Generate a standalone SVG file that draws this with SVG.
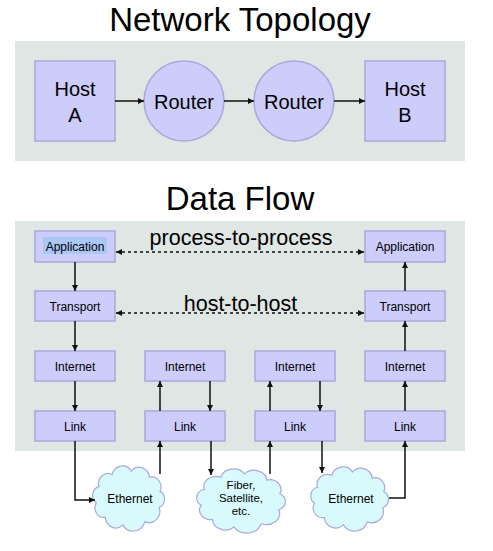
<svg xmlns="http://www.w3.org/2000/svg" xmlns:xlink="http://www.w3.org/1999/xlink" width="493" height="551" viewBox="0 0 493 551">
<style>
text{font-family:"Liberation Sans","Helvetica",Arial,sans-serif;fill:#000;text-anchor:middle}
.title{font-size:33px}
.big{font-size:20px}
.lbl{font-size:21.5px}
.small{font-size:12px}
.tiny{font-size:11.5px}
.panel{fill:#dfe6e4;stroke:none}
.node{fill:#cccdfb;stroke:#a7a8dc;stroke-width:1.5}
.cloud{fill:#d8fafd;stroke:#a9a9dc;stroke-width:1.2}
.conn line,.conn path,.conn polyline{stroke:#111;stroke-width:1.5;fill:none}
.dot{stroke-dasharray:3 3}
</style>
<defs>
<marker id="ah" markerWidth="8" markerHeight="8" refX="6" refY="3" orient="auto" markerUnits="userSpaceOnUse" viewBox="0 0 8 6">
<path d="M0,0 L6,3 L0,6 Z" fill="#111"/>
</marker>
<marker id="ahs" markerWidth="8" markerHeight="8" refX="0" refY="3" orient="auto" markerUnits="userSpaceOnUse" viewBox="0 0 8 6">
<path d="M6,0 L0,3 L6,6 Z" fill="#111"/>
</marker>
<path id="cloud" vector-effect="non-scaling-stroke" d="M7.6,45.7 A11,11 0 0 1 11,26 A12.5,12.5 0 0 1 28.5,11.4 A14,14 0 0 1 53.7,7.1 A13.8,13.8 0 0 1 77.6,14.7 A12,12 0 0 1 91.5,31.5 A10.9,10.9 0 0 1 90.4,51.3 A14,14 0 0 1 71.5,68.6 A16,16 0 0 1 42.5,72.5 A13.6,13.6 0 0 1 19.6,63.3 A11.7,11.7 0 0 1 7.6,45.7 Z"/>
</defs>

<rect class="panel" x="15" y="41" width="450" height="120"/>
<rect class="panel" x="15" y="221" width="450" height="230"/>

<text class="title" x="240" y="31">Network Topology</text>
<text class="title" x="240" y="210">Data Flow</text>

<g id="hostA"><rect class="node" x="35" y="61" width="80" height="80"/><text class="big" x="75" y="96">Host</text><text class="big" x="75" y="122">A</text></g>
<g id="router1"><circle class="node" cx="184" cy="101" r="40"/><text class="big" x="184" y="109">Router</text></g>
<g id="router2"><circle class="node" cx="294" cy="101" r="40"/><text class="big" x="294" y="109">Router</text></g>
<g id="hostB"><rect class="node" x="365" y="61" width="80" height="80"/><text class="big" x="405" y="96">Host</text><text class="big" x="405" y="122">B</text></g>

<g id="app1"><rect class="node" x="35" y="231" width="80" height="31"/><rect x="43" y="237" width="64" height="17" fill="#a9c7f7"/><text class="small" x="75" y="250.5">Application</text></g>
<g id="trans1"><rect class="node" x="35" y="291" width="80" height="30"/><text class="small" x="75" y="310.5">Transport</text></g>
<g id="inet1"><rect class="node" x="35" y="351" width="80" height="30"/><text class="small" x="75" y="370.5">Internet</text></g>
<g id="link1"><rect class="node" x="35" y="411" width="80" height="30"/><text class="small" x="75" y="430.5">Link</text></g>

<g id="inet2"><rect class="node" x="145" y="351" width="80" height="30"/><text class="small" x="185" y="370.5">Internet</text></g>
<g id="link2"><rect class="node" x="145" y="411" width="80" height="30"/><text class="small" x="185" y="430.5">Link</text></g>

<g id="inet3"><rect class="node" x="255" y="351" width="80" height="30"/><text class="small" x="295" y="370.5">Internet</text></g>
<g id="link3"><rect class="node" x="255" y="411" width="80" height="30"/><text class="small" x="295" y="430.5">Link</text></g>

<g id="app4"><rect class="node" x="365" y="231" width="80" height="31"/><text class="small" x="405" y="250.5">Application</text></g>
<g id="trans4"><rect class="node" x="365" y="291" width="80" height="30"/><text class="small" x="405" y="310.5">Transport</text></g>
<g id="inet4"><rect class="node" x="365" y="351" width="80" height="30"/><text class="small" x="405" y="370.5">Internet</text></g>
<g id="link4"><rect class="node" x="365" y="411" width="80" height="30"/><text class="small" x="405" y="430.5">Link</text></g>

<g id="cloud1"><use xlink:href="#cloud" class="cloud" transform="translate(90.5,465.2) scale(0.76,0.823)"/><text class="small" x="130" y="503">Ethernet</text></g>
<g id="cloud2"><use xlink:href="#cloud" class="cloud" transform="translate(194.1,468.2) scale(0.9375,0.81)"/><text class="tiny" x="241" y="489">Fiber,</text><text class="tiny" x="241" y="502">Satellite,</text><text class="tiny" x="241" y="515">etc.</text></g>
<g id="cloud3"><use xlink:href="#cloud" class="cloud" transform="translate(308.4,466.2) scale(0.823,0.81)"/><text class="small" x="351" y="503">Ethernet</text></g>

<g id="connectors" class="conn">
<line x1="115" y1="101" x2="144" y2="101" marker-end="url(#ah)"/>
<line x1="224" y1="101" x2="254" y2="101" marker-end="url(#ah)"/>
<line x1="334" y1="101" x2="365" y2="101" marker-end="url(#ah)"/>

<line class="dot" x1="116" y1="252" x2="364" y2="252" marker-start="url(#ahs)" marker-end="url(#ah)"/>
<line class="dot" x1="116" y1="313" x2="364" y2="313" marker-start="url(#ahs)" marker-end="url(#ah)"/>

<line x1="75" y1="262" x2="75" y2="291" marker-end="url(#ah)"/>
<line x1="75" y1="321" x2="75" y2="351" marker-end="url(#ah)"/>
<line x1="75" y1="381" x2="75" y2="411" marker-end="url(#ah)"/>

<line x1="160" y1="411" x2="160" y2="381" marker-end="url(#ah)"/>
<line x1="210" y1="381" x2="210" y2="411" marker-end="url(#ah)"/>
<line x1="270" y1="411" x2="270" y2="381" marker-end="url(#ah)"/>
<line x1="320" y1="381" x2="320" y2="411" marker-end="url(#ah)"/>

<line x1="405" y1="411" x2="405" y2="381" marker-end="url(#ah)"/>
<line x1="405" y1="351" x2="405" y2="321" marker-end="url(#ah)"/>
<line x1="405" y1="291" x2="405" y2="262" marker-end="url(#ah)"/>

<polyline points="75,441 75,500 95,500" marker-end="url(#ah)"/>
<line x1="160" y1="474" x2="160" y2="441" marker-end="url(#ah)"/>
<line x1="211" y1="441" x2="211" y2="475" marker-end="url(#ah)"/>
<line x1="270" y1="474" x2="270" y2="441" marker-end="url(#ah)"/>
<line x1="322" y1="441" x2="322" y2="473" marker-end="url(#ah)"/>
<polyline points="389,498 405,498 405,441" marker-end="url(#ah)"/>
</g>

<text class="lbl" x="241" y="245">process-to-process</text>
<text class="lbl" x="240.5" y="311">host-to-host</text>
</svg>
